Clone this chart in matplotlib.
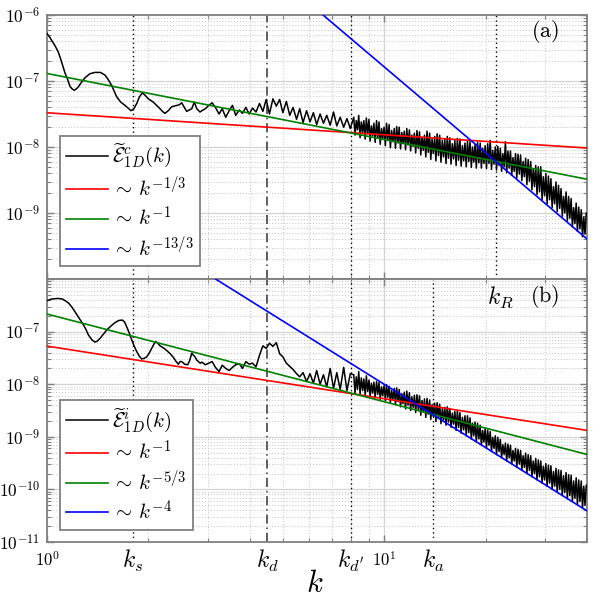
import numpy as np
import matplotlib
matplotlib.use('Agg')
import matplotlib.pyplot as plt
from matplotlib.ticker import FixedLocator, FixedFormatter, NullFormatter, LogLocator

plt.rcParams['mathtext.fontset'] = 'cm'
plt.rcParams['font.family'] = ['DejaVu Serif', 'DejaVu Sans']

# ---------------- data ----------------
# panel (a): low-k smooth part
k_a_low = [1.000, 1.020, 1.040, 1.060, 1.080, 1.100, 1.131, 1.150, 1.170, 1.187, 1.205, 1.222,
           1.238, 1.265, 1.297, 1.340, 1.388, 1.440, 1.486, 1.520, 1.556, 1.585, 1.610, 1.655,
           1.704, 1.740, 1.776, 1.810, 1.846, 1.880, 1.918, 1.958, 1.998, 2.067, 2.115, 2.164,
           2.200, 2.239, 2.290, 2.344, 2.385, 2.426, 2.470, 2.510, 2.555, 2.597, 2.640, 2.688,
           2.736, 2.782, 2.844]
logE_a_low = [-6.28, -6.34, -6.41, -6.48, -6.56, -6.68, -6.88, -6.97, -7.08, -7.12, -7.14, -7.12,
              -7.09, -7.02, -6.95, -6.89, -6.87, -6.87, -6.91, -6.98, -7.07, -7.16, -7.24, -7.32,
              -7.37, -7.41, -7.45, -7.42, -7.34, -7.24, -7.18, -7.22, -7.27, -7.32, -7.37, -7.42,
              -7.46, -7.49, -7.45, -7.39, -7.38, -7.37, -7.36, -7.33, -7.40, -7.46, -7.44, -7.42,
              -7.32, -7.42, -7.47]

# panel (b): low-k smooth part
k_b_low = [1.000, 1.033, 1.076, 1.110, 1.131, 1.160, 1.184, 1.210, 1.238, 1.260, 1.282, 1.305,
           1.326, 1.360, 1.388, 1.410, 1.436, 1.470, 1.504, 1.550, 1.591, 1.630, 1.673, 1.700,
           1.724, 1.755, 1.784, 1.815, 1.846, 1.880, 1.910, 1.940, 1.976, 2.010, 2.045, 2.075,
           2.102, 2.130, 2.164, 2.215, 2.266, 2.320, 2.371, 2.410, 2.453, 2.480, 2.510, 2.560,
           2.616, 2.650, 2.688, 2.720, 2.749, 2.780, 2.812, 2.850]
logE_b_low = [-6.41, -6.38, -6.37, -6.38, -6.41, -6.46, -6.53, -6.62, -6.72, -6.80, -6.87, -6.96,
              -7.06, -7.16, -7.20, -7.18, -7.13, -7.05, -6.97, -6.89, -6.83, -6.79, -6.78, -6.82,
              -6.91, -7.03, -7.16, -7.28, -7.38, -7.47, -7.52, -7.51, -7.48, -7.41, -7.32, -7.24,
              -7.19, -7.22, -7.27, -7.31, -7.36, -7.42, -7.49, -7.56, -7.62, -7.57, -7.57, -7.62,
              -7.63, -7.55, -7.41, -7.45, -7.48, -7.54, -7.57, -7.60]

# shared mid-k samples
k_mid = [2.88, 2.95, 3.02, 3.09, 3.16, 3.24, 3.31, 3.39, 3.47, 3.55, 3.63, 3.72, 3.80, 3.89, 3.98,
         4.07, 4.17, 4.27, 4.37, 4.47, 4.57, 4.68, 4.79, 4.90, 5.01, 5.13, 5.25, 5.37, 5.50, 5.62,
         5.75, 5.89, 6.03, 6.17, 6.31, 6.46, 6.61, 6.76, 6.92, 7.08, 7.24, 7.41, 7.59, 7.76, 7.94]
logE_a_mid = [-7.45, -7.42, -7.37, -7.33, -7.40, -7.50, -7.42, -7.55, -7.45, -7.37, -7.52, -7.44,
              -7.49, -7.40, -7.50, -7.41, -7.47, -7.34, -7.46, -7.28, -7.50, -7.27, -7.38, -7.28,
              -7.48, -7.31, -7.52, -7.40, -7.58, -7.42, -7.63, -7.45, -7.62, -7.48, -7.66, -7.50,
              -7.64, -7.52, -7.67, -7.47, -7.68, -7.55, -7.70, -7.57, -7.72]
logE_b_mid = [-7.58, -7.63, -7.60, -7.57, -7.68, -7.76, -7.64, -7.70, -7.74, -7.68, -7.63, -7.61,
              -7.70, -7.57, -7.62, -7.60, -7.67, -7.45, -7.27, -7.32, -7.22, -7.28, -7.21, -7.42,
              -7.48, -7.60, -7.66, -7.72, -7.80, -7.86, -7.78, -7.95, -7.80, -7.98, -7.74, -8.00,
              -7.82, -8.05, -7.70, -8.08, -7.78, -8.10, -7.68, -8.12, -7.80]

# shared high-k samples (noisy band): crest samples and trough samples
k_hi_crest = [8.13, 8.27, 8.41, 8.56, 8.71, 8.86, 9.02, 9.17, 9.33, 9.50, 9.66, 9.83, 10.00, 10.17,
              10.35, 10.53, 10.72, 10.90, 11.09, 11.29, 11.48, 11.68, 11.89, 12.09, 12.30, 12.52,
              12.74, 12.96, 13.18, 13.41, 13.65, 13.88, 14.13, 14.37, 14.62, 14.88, 15.14, 15.40,
              15.67, 15.94, 16.22, 16.50, 16.79, 17.08, 17.38, 17.68, 17.99, 18.30, 18.62, 18.94,
              19.28, 19.61, 19.95, 20.30, 20.65, 21.01, 21.38, 21.75, 22.13, 22.51, 22.91, 23.31,
              23.71, 24.12, 24.55, 24.97, 25.41, 25.85, 26.30, 26.76, 27.23, 27.70, 28.18, 28.68,
              29.17, 29.68, 30.20, 30.73, 31.26, 31.81, 32.36, 32.92, 33.50, 34.08, 34.67, 35.28,
              35.89, 36.52, 37.15, 37.80, 38.46, 39.13, 39.81]
k_hi_trough = [8.20, 8.34, 8.49, 8.64, 8.79, 8.94, 9.09, 9.25, 9.41, 9.58, 9.74, 9.91, 10.09,
               10.26, 10.44, 10.62, 10.81, 11.00, 11.19, 11.38, 11.58, 11.78, 11.99, 12.20, 12.41,
               12.63, 12.85, 13.07, 13.30, 13.53, 13.76, 14.00, 14.25, 14.50, 14.75, 15.01, 15.27,
               15.53, 15.80, 16.08, 16.36, 16.64, 16.93, 17.23, 17.53, 17.84, 18.15, 18.46, 18.78,
               19.11, 19.44, 19.78, 20.13, 20.48, 20.83, 21.19, 21.56, 21.94, 22.32, 22.71, 23.11,
               23.51, 23.92, 24.33, 24.76, 25.19, 25.63, 26.07, 26.53, 26.99, 27.46, 27.94, 28.43,
               28.92, 29.43, 29.94, 30.46, 30.99, 31.53, 32.08, 32.64, 33.21, 33.79, 34.38, 34.98,
               35.58, 36.20, 36.83, 37.47, 38.12, 38.79, 39.46]
logE_a_crest = [-7.55, -7.60, -7.52, -7.62, -7.60, -7.56, -7.58, -7.68, -7.64, -7.60, -7.62, -7.72,
                -7.70, -7.64, -7.66, -7.75, -7.72, -7.69, -7.70, -7.78, -7.76, -7.72, -7.74, -7.82,
                -7.79, -7.75, -7.77, -7.85, -7.82, -7.76, -7.79, -7.88, -7.84, -7.80, -7.82, -7.90,
                -7.88, -7.84, -7.86, -7.95, -7.90, -7.87, -7.88, -7.98, -7.94, -7.91, -7.92, -8.00,
                -7.96, -7.93, -7.94, -8.02, -7.98, -7.95, -7.90, -8.05, -8.00, -7.99, -8.02, -8.10,
                -7.92, -8.06, -8.06, -8.16, -8.10, -8.11, -8.12, -8.22, -8.17, -8.19, -8.22, -8.33,
                -8.28, -8.30, -8.30, -8.45, -8.40, -8.44, -8.48, -8.60, -8.53, -8.58, -8.63, -8.75,
                -8.68, -8.75, -8.78, -8.92, -8.85, -8.91, -8.95, -9.06, -9.00]
logE_a_trough = [-7.82, -7.74, -7.86, -7.78, -7.88, -7.80, -7.91, -7.83, -7.93, -7.86, -7.96, -7.88,
                 -7.98, -7.90, -8.01, -7.92, -8.02, -7.94, -8.03, -7.95, -8.04, -7.97, -8.06, -7.99,
                 -8.09, -8.02, -8.12, -8.05, -8.15, -8.08, -8.19, -8.10, -8.21, -8.13, -8.23, -8.15,
                 -8.25, -8.17, -8.26, -8.18, -8.28, -8.20, -8.29, -8.21, -8.30, -8.22, -8.31, -8.23,
                 -8.32, -8.24, -8.32, -8.25, -8.33, -8.25, -8.34, -8.26, -8.35, -8.28, -8.37, -8.30,
                 -8.39, -8.32, -8.43, -8.37, -8.47, -8.41, -8.51, -8.45, -8.57, -8.52, -8.65, -8.60,
                 -8.72, -8.68, -8.80, -8.74, -8.86, -8.80, -8.92, -8.86, -8.98, -8.93, -9.05, -9.00,
                 -9.12, -9.08, -9.21, -9.16, -9.28, -9.24, -9.36, -9.32]
logE_b_crest = [-7.82, -7.86, -7.76, -7.88, -7.90, -7.84, -7.92, -7.98, -7.96, -7.95, -7.97, -8.05,
                -8.03, -8.01, -8.04, -8.12, -8.08, -8.07, -8.10, -8.18, -8.15, -8.13, -8.16, -8.24,
                -8.21, -8.20, -8.22, -8.31, -8.28, -8.27, -8.30, -8.39, -8.36, -8.35, -8.38, -8.47,
                -8.44, -8.43, -8.46, -8.55, -8.52, -8.51, -8.54, -8.63, -8.60, -8.60, -8.64, -8.74,
                -8.72, -8.74, -8.78, -8.88, -8.84, -8.87, -8.90, -9.01, -8.98, -9.01, -9.05, -9.15,
                -9.12, -9.14, -9.16, -9.26, -9.22, -9.24, -9.26, -9.36, -9.31, -9.34, -9.36, -9.46,
                -9.41, -9.44, -9.46, -9.56, -9.51, -9.54, -9.55, -9.66, -9.60, -9.63, -9.64, -9.74,
                -9.68, -9.72, -9.73, -9.84, -9.78, -9.82, -9.84, -9.94, -9.92]
logE_b_trough = [-8.17, -8.10, -8.19, -8.12, -8.21, -8.14, -8.24, -8.17, -8.26, -8.19, -8.29, -8.22,
                 -8.31, -8.25, -8.35, -8.29, -8.39, -8.33, -8.43, -8.37, -8.47, -8.40, -8.50, -8.44,
                 -8.54, -8.48, -8.59, -8.53, -8.63, -8.57, -8.67, -8.61, -8.71, -8.65, -8.75, -8.68,
                 -8.78, -8.72, -8.82, -8.76, -8.88, -8.82, -8.93, -8.87, -8.98, -8.92, -9.04, -8.98,
                 -9.10, -9.04, -9.16, -9.10, -9.22, -9.16, -9.28, -9.22, -9.34, -9.28, -9.40, -9.34,
                 -9.46, -9.40, -9.52, -9.46, -9.58, -9.52, -9.64, -9.58, -9.70, -9.64, -9.76, -9.70,
                 -9.82, -9.76, -9.88, -9.82, -9.94, -9.88, -10.00, -9.94, -10.06, -10.00, -10.12,
                 -10.06, -10.18, -10.12, -10.23, -10.17, -10.29, -10.23, -10.35, -10.30]

# power-law guide lines: amplitude at k=1 and exponent
fit_amp_a = [3.3e-8, 1.3e-7, 3.54e-3]
fit_exp_a = [-1/3, -1, -13/3]
fit_amp_b = [5.3e-8, 2.16e-7, 1.0e-4]
fit_exp_b = [-1, -5/3, -4]

labels_a = [r'$\widetilde{\mathcal{E}}^{c}_{1D}(k)$', r'$\sim\, k^{-1/3}$',
            r'$\sim\, k^{-1}$', r'$\sim\, k^{-13/3}$']
labels_b = [r'$\widetilde{\mathcal{E}}^{i}_{1D}(k)$', r'$\sim\, k^{-1}$',
            r'$\sim\, k^{-5/3}$', r'$\sim\, k^{-4}$']

# characteristic wavenumbers
k_s, k_d, k_dp, k_a, k_R = 1.8, 4.5, 8.0, 14.0, 21.5
k_lim = [1, 40]

# ---------------- figure ----------------
fig = plt.figure(figsize=(6, 6), dpi=100)
ax1 = fig.add_axes([47/600, 1-279/600, 540/600, 264/600])
ax2 = fig.add_axes([47/600, 1-542/600, 540/600, 263/600])

gray = '#808080'
colors = ['#ff0000', '#008000', '#0000ff']


def style(ax, ylim, decades, ylabels):
    ax.set_xscale('log')
    ax.set_yscale('log')
    ax.set_xlim(*k_lim)
    ax.set_ylim(*ylim)
    ax.yaxis.set_major_locator(FixedLocator(decades))
    ax.yaxis.set_major_formatter(FixedFormatter(ylabels))
    ax.yaxis.set_minor_locator(LogLocator(base=10, subs=np.arange(2, 10), numticks=30))
    ax.yaxis.set_minor_formatter(NullFormatter())
    ax.xaxis.set_major_locator(FixedLocator([1, 10]))
    ax.xaxis.set_minor_locator(LogLocator(base=10, subs=np.arange(2, 10), numticks=30))
    ax.xaxis.set_minor_formatter(NullFormatter())
    ax.tick_params(which='both', direction='in', top=True, right=True, color=gray,
                   labelsize=12.5, pad=5)
    ax.tick_params(which='major', length=5, width=1)
    ax.tick_params(which='minor', length=3, width=0.8)
    ax.grid(which='major', color='#d4d4d4', lw=0.9, ls='-')
    ax.grid(which='minor', color='#c4c4c4', lw=0.7, ls=(0, (1, 2)))
    ax.set_axisbelow(True)
    for sp in ax.spines.values():
        sp.set_color(gray)
        sp.set_linewidth(1.3)


style(ax1, (1e-10, 1e-6), [1e-10, 1e-9, 1e-8, 1e-7, 1e-6],
      ['', r'$10^{-9}$', r'$10^{-8}$', r'$10^{-7}$', r'$10^{-6}$'])
style(ax2, (1e-11, 1e-6), [1e-11, 1e-10, 1e-9, 1e-8, 1e-7, 1e-6],
      [r'$10^{-11}$', r'$10^{-10}$', r'$10^{-9}$', r'$10^{-8}$', r'$10^{-7}$', ''])
ax1.xaxis.set_major_formatter(NullFormatter())
ax2.xaxis.set_major_formatter(FixedFormatter([r'$10^{0}$', r'$10^{1}$']))
ax2.tick_params(axis='x', which='major', labelsize=12, pad=7)

dot = (0, (1, 2.2))


def panel(ax, k_low, e_low, e_mid, e_crest, e_trough, amps, exps, labels, marks, leg_anchor):
    for km in marks:
        ax.axvline(km, color='k', ls=dot, lw=1.0, zorder=1.5)
    ax.axvline(k_d, color='#333333', ls=(0, (6, 2.5, 1, 2.5)), lw=1.1, zorder=1.5)
    kk = np.array(list(k_low) + k_mid + k_hi_crest + k_hi_trough)
    ee = np.array(list(e_low) + e_mid + e_crest + e_trough)
    order = np.argsort(kk, kind='stable')
    handles = []
    h, = ax.plot(kk[order], 10 ** ee[order], color='k', lw=1.1, zorder=3)
    handles.append(h)
    kl = np.array(k_lim, dtype=float)
    for a, p, c in zip(amps, exps, colors):
        h, = ax.plot(kl, a * kl ** p, color=c, lw=1.2, zorder=4)
        handles.append(h)
    leg = ax.legend(handles, labels, loc='lower left', bbox_to_anchor=leg_anchor,
                    borderaxespad=0, fontsize=15, handlelength=2.0, handletextpad=0.2,
                    labelspacing=0.25, borderpad=0.3, fancybox=False, edgecolor=gray,
                    framealpha=1)
    leg.get_frame().set_linewidth(1.3)
    leg.set_zorder(10)


panel(ax1, k_a_low, logE_a_low, logE_a_mid, logE_a_crest, logE_a_trough, fit_amp_a, fit_exp_a,
      labels_a, [k_s, k_dp, k_R], (0.024, 0.049))
panel(ax2, k_b_low, logE_b_low, logE_b_mid, logE_b_crest, logE_b_trough, fit_amp_b, fit_exp_b,
      labels_b, [k_s, k_dp, k_a], (0.024, 0.046))

ax1.text(0.922, 0.936, r'$\mathrm{(a)}$', transform=ax1.transAxes, ha='center', va='center',
         fontsize=16)
ax2.text(0.922, 0.932, r'$\mathrm{(b)}$', transform=ax2.transAxes, ha='center', va='center',
         fontsize=16)
ax2.text(0.839, 0.932, r'$k_R$', transform=ax2.transAxes, ha='center', va='center',
         fontsize=17)

for kv, lab in [(k_s, r'$k_s$'), (k_d, r'$k_d$'), (k_dp, r"$k_{d'}$"), (k_a, r'$k_a$')]:
    ax2.annotate(lab, xy=(kv, 0), xycoords=('data', 'axes fraction'), xytext=(0, -19),
                 textcoords='offset points', ha='center', va='baseline', fontsize=17)

fig.text(315/600, 1-584/600, r'$k$', ha='center', va='center', fontsize=22)

fig.savefig('out.png', dpi=100)
